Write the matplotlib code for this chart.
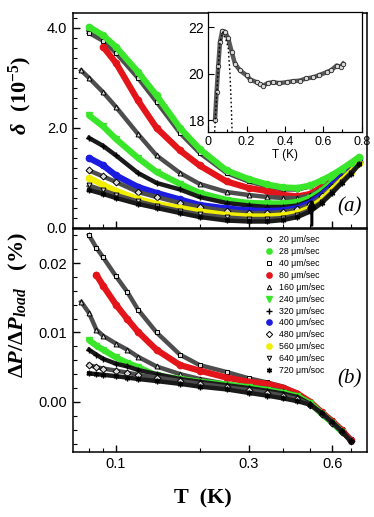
import numpy as np
import matplotlib
matplotlib.use("Agg")
import matplotlib.pyplot as plt
from matplotlib.lines import Line2D
from matplotlib.ticker import FixedLocator, MultipleLocator, NullFormatter

nan = np.nan

# sweep rates in um/sec (legend order)
rates = [20, 28, 40, 80, 160, 240, 320, 400, 480, 560, 640, 720]
rate_labels = ["20 \u03bcm/sec", "28 \u03bcm/sec", "40 \u03bcm/sec", "80 \u03bcm/sec",
               "160 \u03bcm/sec", "240 \u03bcm/sec", "320 \u03bcm/sec",
               "400 \u03bcm/sec", "480 \u03bcm/sec", "560 \u03bcm/sec",
               "640 \u03bcm/sec", "720 \u03bcm/soc"]

# panel (a): delta (1e-5) vs T (K)
T_a = [0.075, 0.08, 0.09, 0.1, 0.12, 0.14, 0.17, 0.2, 0.25, 0.3, 0.35,
       0.4, 0.45, 0.5, 0.55, 0.6, 0.65, 0.7, 0.75]
d20 = [nan, 3.95, 3.78, 3.56, 3.05, 2.58, 1.95, 1.53, 1.12, 0.95, 0.85,
       0.79, 0.78, 0.84, 0.95, 1.05, 1.17, 1.30, 1.42]
d28 = [nan, 4.02, 3.85, 3.62, 3.12, 2.65, 2.00, 1.58, 1.15, 0.98, 0.87,
       0.81, 0.80, 0.85, 0.95, 1.06, 1.18, 1.30, 1.42]
d40 = [nan, 3.90, 3.74, 3.50, 3.00, 2.52, 1.90, 1.50, 1.10, 0.93, 0.83,
       0.77, 0.77, 0.83, 0.94, 1.05, 1.17, 1.30, 1.42]
d80 = [nan, nan, 3.62, 3.30, 2.55, 2.00, 1.55, 1.25, 0.93, 0.80, 0.74,
       0.66, 0.63, 0.68, 0.82, 0.98, 1.13, 1.27, 1.40]
d160 = [3.15, 3.00, 2.71, 2.42, 1.88, 1.45, 1.10, 0.88, 0.72, 0.66, 0.62,
        0.60, 0.60, 0.65, 0.78, 0.95, 1.10, 1.25, 1.38]
d240 = [nan, 2.25, 2.03, 1.78, 1.40, 1.12, 0.88, 0.70, 0.56, 0.50, 0.49,
        0.49, 0.52, 0.60, 0.74, 0.92, 1.08, 1.23, 1.38]
d320 = [nan, 1.80, 1.64, 1.45, 1.10, 0.90, 0.77, 0.62, 0.50, 0.45, 0.42,
        0.42, 0.45, 0.55, 0.70, 0.88, 1.05, 1.20, 1.36]
d400 = [nan, 1.40, 1.25, 1.05, 0.82, 0.70, 0.57, 0.46, 0.39, 0.35, 0.34,
        0.35, 0.40, 0.50, 0.66, 0.85, 1.02, 1.18, 1.34]
d480 = [nan, 1.15, 1.03, 0.92, 0.72, 0.62, 0.50, 0.42, 0.34, 0.30, 0.30,
        0.32, 0.37, 0.47, 0.63, 0.82, 1.00, 1.16, 1.32]
d560 = [nan, 1.00, 0.86, 0.74, 0.58, 0.48, 0.40, 0.33, 0.26, 0.23, 0.23,
        0.25, 0.30, 0.40, 0.56, 0.76, 0.95, 1.12, 1.30]
d640 = [nan, 0.85, 0.75, 0.66, 0.53, 0.44, 0.34, 0.27, 0.21, 0.18, 0.18,
        0.20, 0.26, 0.36, 0.52, 0.72, 0.92, 1.10, 1.28]
d720 = [nan, 0.76, 0.68, 0.60, 0.48, 0.40, 0.30, 0.22, 0.15, 0.13, 0.13,
        0.16, 0.22, 0.33, 0.50, 0.70, 0.90, 1.08, 1.27]

# panel (b): dP/dP_load (%) vs T (K)
T_b = [0.075, 0.08, 0.085, 0.09, 0.1, 0.11, 0.12, 0.14, 0.17, 0.2, 0.25,
       0.3, 0.35, 0.4, 0.45, 0.5, 0.55, 0.6, 0.65, 0.7]
p40 = [nan, 0.0240, 0.0222, 0.0208, 0.0181, 0.0158, 0.0133, 0.0100, 0.0068,
       0.0053, 0.0043, 0.0034, 0.0028, 0.0022, 0.0013, -0.0001, -0.0014,
       -0.0026, -0.0039, -0.0054]
p80 = [nan, nan, 0.0183, 0.0167, 0.0140, 0.0119, 0.0101, 0.0075, 0.0053,
       0.0045, 0.0035, 0.0029, 0.0026, 0.0020, 0.0012, 0.0000, -0.0015,
       -0.0028, -0.0041, -0.0055]
p160 = [0.0144, 0.0128, 0.0104, 0.0095, 0.0084, 0.0075, 0.0065, 0.0051,
        0.0040, 0.0033, 0.0026, 0.0022, 0.0019, 0.0015, 0.0009, -0.0001,
        -0.0016, -0.0029, -0.0042, -0.0056]
p240 = [nan, 0.0089, 0.0081, 0.0075, 0.0064, 0.0056, 0.0050, 0.0038,
        0.0033, 0.0029, 0.0025, 0.0021, 0.0017, 0.0013, 0.0008, -0.0002,
        -0.0017, -0.0030, -0.0043, nan]
p320 = [nan, 0.0075, 0.0068, 0.0062, 0.0055, 0.0051, 0.0046, 0.0040,
        0.0033, 0.0029, 0.0024, 0.0020, 0.0016, 0.0012, 0.0007, -0.0003,
        -0.0017, -0.0030, -0.0043, -0.0056]
p480 = [nan, 0.0053, 0.0050, 0.0048, 0.0045, 0.0042, 0.0039, 0.0035,
        0.0030, 0.0026, 0.0021, 0.0017, 0.0013, 0.0009, 0.0004, -0.0004,
        -0.0017, -0.0030, -0.0043, -0.0056]
p720 = [nan, 0.0041, 0.0040, 0.0039, 0.0037, 0.0035, 0.0033, 0.0030,
        0.0026, 0.0022, 0.0018, 0.0013, 0.0009, 0.0005, 0.0001, -0.0004,
        -0.0016, -0.0029, -0.0042, -0.0057]

# inset
T_in = [0.035, 0.043, 0.052, 0.061, 0.073, 0.087, 0.104, 0.122, 0.139,
        0.165, 0.2, 0.22, 0.252, 0.27, 0.287, 0.31, 0.339, 0.37, 0.409,
        0.44, 0.478, 0.51, 0.548, 0.58, 0.617, 0.64, 0.67, 0.69, 0.704]
v_in = [18.03, 19.2, 20.36, 21.39, 21.85, 21.82, 21.53, 20.95, 20.44,
        20.15, 19.93, 19.75, 19.64, 19.55, 19.49, 19.6, 19.64, 19.6, 19.64,
        19.68, 19.71, 19.8, 19.85, 19.95, 20.07, 20.15, 20.36, 20.3, 20.44]
T_fit = [0.033, 0.047, 0.06, 0.075, 0.095, 0.104, 0.113, 0.12, 0.124]
v_fit = [17.5, 19.6, 21.3, 21.8, 21.4, 21.1, 20.0, 18.6, 17.5]

green = "#3ae62a"
red = "#e3141a"
blue = "#1c1ce0"
yellow = "#f2ee00"

# marker, colour (None = open black marker)
styles = {20: ("o", None), 28: ("o", green), 40: ("s", None),
          80: ("o", red), 160: ("^", None), 240: ("v", green),
          320: ("+", "k"), 400: ("o", blue), 480: ("D", None),
          560: ("o", yellow), 640: ("v", None), 720: ((6, 2, 0), "k")}


def draw_series(ax, x, y, rate, z):
    m, c = styles[rate]
    if c is None:
        ax.plot(x, y, "-", color="0.3", lw=3.2, zorder=z)
        ax.plot(x, y, ls="none", marker=m, ms=3.5, mfc="0.85", mec="k",
                mew=0.7, zorder=z)
    elif c == "k":
        ax.plot(x, y, "-", color="0.1", lw=3.2, zorder=z)
        ax.plot(x, y, ls="none", marker=m, ms=4, mfc="k", mec="k",
                mew=1.0, zorder=z)
    else:
        ax.plot(x, y, "-", color=c, lw=4.5, solid_capstyle="round", zorder=z)
        ax.plot(x, y, ls="none", marker=m, ms=4.5, mfc=c, mec=c, zorder=z)


def main():
    plt.rcParams['font.family'] = "sans-serif"
    plt.rcParams['font.sans-serif'] = ["Liberation Sans", "DejaVu Sans"]
    plt.rcParams['mathtext.fontset'] = "custom"
    plt.rcParams['mathtext.rm'] = "Liberation Serif:bold"
    plt.rcParams['mathtext.it'] = "Liberation Serif:italic:bold"
    plt.rcParams['mathtext.bf'] = "Liberation Serif:bold"
    plt.rcParams['axes.linewidth'] = 1.1

    fig = plt.figure(figsize=(3.74, 5.17), dpi=100)
    ax_a = fig.add_axes([0.195, 0.559, 0.786, 0.416])
    ax_b = fig.add_axes([0.195, 0.126, 0.786, 0.431])

    # panel (a)
    data_a = {20: d20, 28: d28, 40: d40, 80: d80, 160: d160, 240: d240,
              320: d320, 400: d400, 480: d480, 560: d560, 640: d640,
              720: d720}
    for i, r in enumerate(rates):
        z = 3 + i
        if r == 28:
            z = 20
        draw_series(ax_a, T_a, data_a[r], r, z)

    ax_a.annotate("", xy=(0.507, 0.64), xytext=(0.507, 0.0),
                  arrowprops=dict(arrowstyle="-|>", color="k", lw=2.2,
                                  mutation_scale=11), zorder=30)
    ax_a.text(0.942, 0.1, "(a)", transform=ax_a.transAxes, ha="center",
              va="center", fontsize=15, family="Liberation Serif",
              style="italic")
    ax_a.set_ylim(0, 4.3)
    ax_a.yaxis.set_major_locator(FixedLocator([0, 2, 4]))
    ax_a.set_yticklabels(["0.0", "2.0", "4.0"])
    ax_a.yaxis.set_minor_locator(MultipleLocator(0.2))

    # panel (b)
    data_b = {40: p40, 80: p80, 160: p160, 240: p240, 320: p320,
              480: p480, 720: p720}
    for i, r in enumerate(rates):
        if r in data_b:
            draw_series(ax_b, T_b, data_b[r], r, 3 + i)
    ax_b.set_ylim(-0.0072, 0.0249)
    ax_b.yaxis.set_major_locator(FixedLocator([0.0, 0.01, 0.02]))
    ax_b.set_yticklabels(["0.00", "0.01", "0.02"])
    ax_b.yaxis.set_minor_locator(MultipleLocator(0.002))
    ax_b.text(0.942, 0.327, "(b)", transform=ax_b.transAxes, ha="center",
              va="center", fontsize=15, family="Liberation Serif",
              style="italic")

    handles = []
    for r in rates:
        m, c = styles[r]
        if c is None:
            h = Line2D([], [], ls="none", marker=m, ms=3.2, mfc="white",
                       mec="k", mew=0.7)
        else:
            h = Line2D([], [], ls="none", marker=m, ms=3.8, mfc=c, mec=c)
        handles.append(h)
    ax_b.legend(handles, rate_labels, loc="upper left",
                bbox_to_anchor=(0.652, 0.972), frameon=False, fontsize=6.3,
                borderpad=0, borderaxespad=0, handlelength=0.9,
                handletextpad=0.8, labelspacing=0.33)

    for ax in (ax_a, ax_b):
        ax.set_xscale("log")
        ax.set_xlim(0.07, 0.8)
        ax.xaxis.set_major_locator(FixedLocator([0.1, 0.3, 0.6]))
        ax.xaxis.set_minor_locator(FixedLocator([0.08, 0.09, 0.2, 0.4, 0.5,
                                                 0.7]))
        ax.xaxis.set_minor_formatter(NullFormatter())
        ax.tick_params(which="both", direction="in", top=False, right=False,
                       labelsize=10.5)
        ax.tick_params(which="major", length=5, width=1, pad=4)
        ax.tick_params(which="minor", length=3, width=0.8)

    ax_a.set_xticklabels([])
    ax_b.set_xticklabels(["0.1", "0.3", "0.6"])

    # inset
    ax_in = fig.add_axes([0.557, 0.745, 0.41, 0.231])
    ax_in.plot(T_in, v_in, "-", color="0.35", lw=3.2, zorder=2)
    ax_in.plot(T_in, v_in, ls="none", marker="o", ms=3.2, mfc="0.85",
               mec="0.15", mew=0.6, zorder=3)
    ax_in.plot(T_fit, v_fit, ls=(0, (1.2, 1.8)), color="k", lw=1.0, zorder=4)
    ax_in.set_xlim(0, 0.8)
    ax_in.set_ylim(17.5, 22.65)
    ax_in.xaxis.set_major_locator(FixedLocator([0, 0.2, 0.4, 0.6, 0.8]))
    ax_in.set_xticklabels(["0", "0.2", "0.4", "0.6", "0.8"])
    ax_in.xaxis.set_minor_locator(MultipleLocator(0.1))
    ax_in.yaxis.set_major_locator(FixedLocator([18, 20, 22]))
    ax_in.tick_params(which="both", direction="in", labelsize=10,
                      pad=3)
    ax_in.tick_params(axis="x", labelsize=9)
    ax_in.tick_params(which="major", length=4, width=0.8)
    ax_in.tick_params(which="minor", length=2.5, width=0.8)
    ax_in.set_xlabel("T (K)", fontsize=8.5, labelpad=1)
    for sp in ax_in.spines.values():
        sp.set_linewidth(0.9)

    # axis labels
    fig.text(0.055, 0.815, r"$\delta$  $\mathrm{(10^{-5})}$", rotation=90,
             ha="center", va="center", fontsize=16)
    fig.text(0.05, 0.41, r"$\Delta P/\Delta P_{load}$   $\mathrm{(\%)}$",
             rotation=90, ha="center", va="center", fontsize=16)
    fig.text(0.543, 0.036, "T  (K)", ha="center", va="center", fontsize=16,
             family="Liberation Serif", weight="bold")

    fig.savefig("out.png", dpi=100)


if __name__ == "__main__":
    main()
